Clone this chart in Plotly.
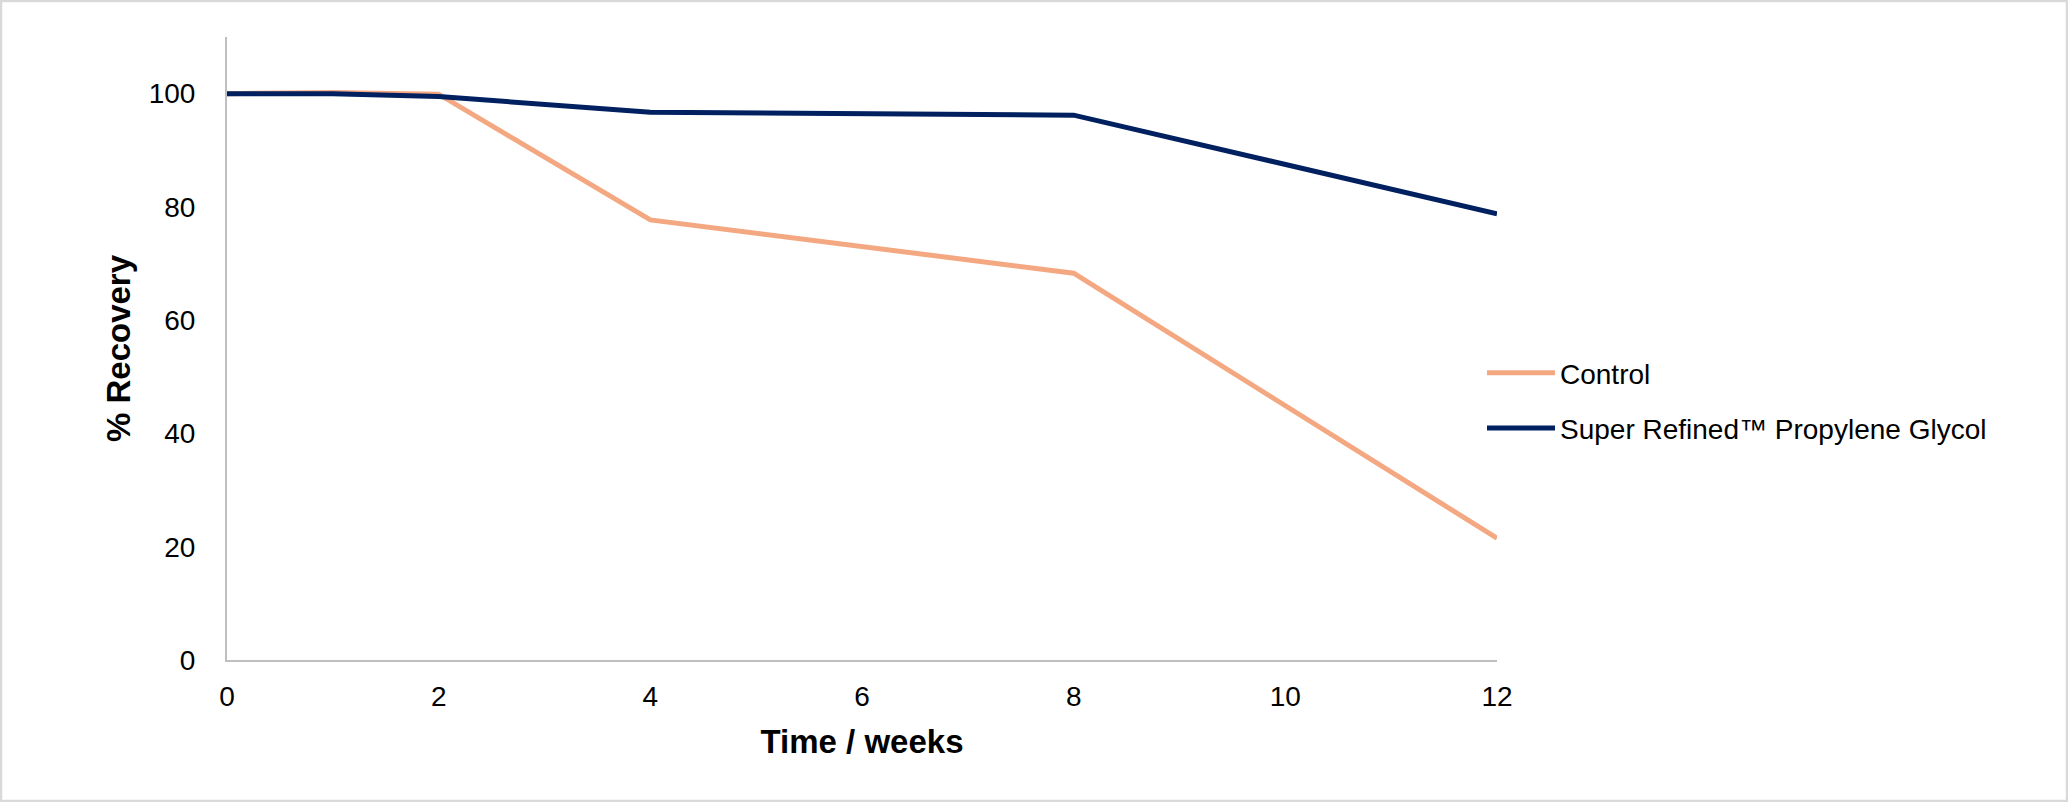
import plotly.graph_objects as go

weeks = [0, 1, 2, 4, 8, 12]
control = [100.0, 100.2, 99.9, 77.7, 68.3, 21.5]
srpg = [100.0, 100.0, 99.5, 96.7, 96.2, 78.8]

series_names = ["Control", "Super Refined™ Propylene Glycol"]
series_colors = ["#F4A882", "#002060"]
x_ticks = [0, 2, 4, 6, 8, 10, 12]
y_ticks = [0, 20, 40, 60, 80, 100]

W, H = 2068, 802
ML, MR, MT, MB = 227, 571, 37, 142
pw, ph = W - ML - MR, H - MT - MB

FONT = "Liberation Sans, Arial, sans-serif"

fig = go.Figure()
for name, ys, col, grp in zip(series_names, [control, srpg], series_colors, ["a", "b"]):
    fig.add_trace(go.Scatter(x=weeks, y=ys, mode="lines", name=name,
                             line=dict(color=col, width=5), legendgroup=grp))

fig.update_layout(
    width=W, height=H,
    margin=dict(l=ML, r=MR, t=MT, b=MB, pad=0),
    paper_bgcolor="white", plot_bgcolor="white",
    font=dict(family=FONT, size=28, color="#000000"),
    showlegend=True,
    legend=dict(x=(1482 - ML) / pw, y=(MT + ph - 400.5) / ph, xanchor="left", yanchor="middle",
                font=dict(size=28, color="#000000"), itemwidth=68, tracegroupgap=16,
                bgcolor="rgba(0,0,0,0)"),
    xaxis=dict(range=[0, 12], tickvals=x_ticks, showgrid=False, zeroline=False,
               showline=True, linecolor="#BFBFBF", linewidth=2, ticks="",
               ticklabelstandoff=10, tickfont=dict(size=28),
               title=dict(text="<b>Time / weeks</b>", font=dict(size=33), standoff=19)),
    yaxis=dict(range=[0, 110], tickvals=y_ticks, showgrid=False, zeroline=False,
               showline=True, linecolor="#BFBFBF", linewidth=2, ticks="",
               ticklabelstandoff=24, tickfont=dict(size=28),
               title=dict(text="<b>% Recovery</b>", font=dict(size=33), standoff=8)),
    shapes=[dict(type="rect", xref="paper", yref="paper",
                 x0=(1 - ML) / pw, x1=(W - 1 - ML) / pw,
                 y0=-(MB - 1) / ph, y1=1 + (MT - 1) / ph,
                 line=dict(color="#D9D9D9", width=2.5), fillcolor="rgba(0,0,0,0)", layer="below")],
)

fig.write_html("out.html", config={"displayModeBar": False},
               post_script="document.body.style.margin='0';document.body.style.overflow='hidden';")
